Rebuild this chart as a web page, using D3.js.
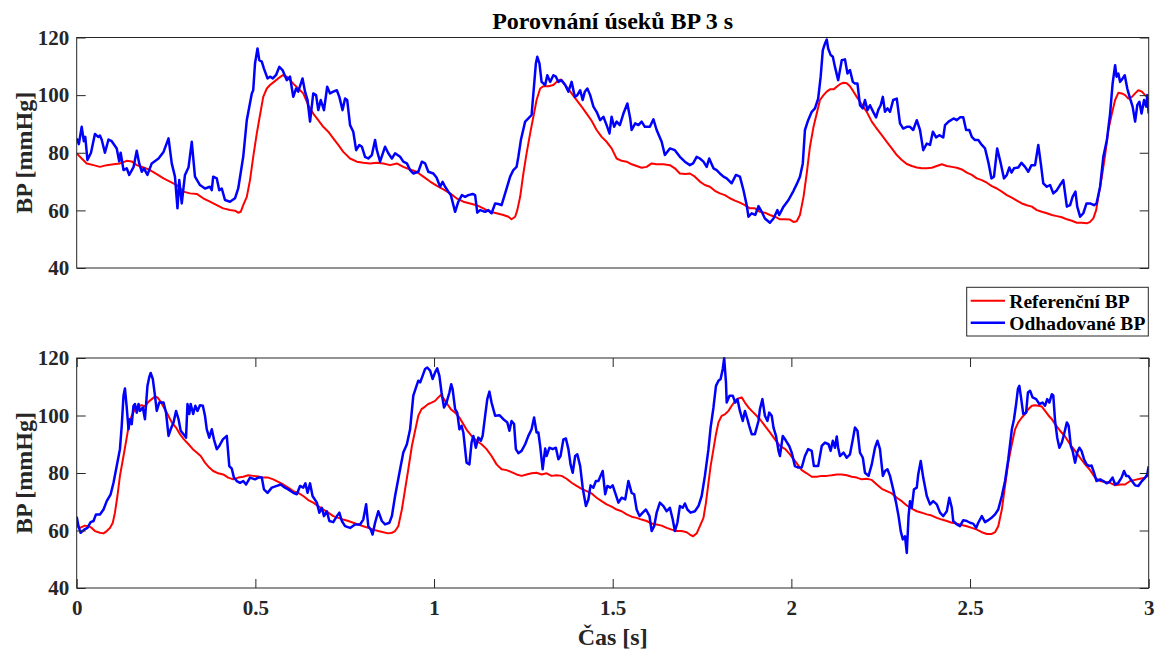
<!DOCTYPE html>
<html><head><meta charset="utf-8">
<script src="https://cdn.jsdelivr.net/npm/d3@7"></script>
<style>
body{margin:0;background:#fff}
text{font-family:"Liberation Serif","Times New Roman",serif;font-weight:bold;fill:#262626}
</style>
</head><body>
<svg id="c" width="1164" height="650"></svg>
<script>
// ---------------- DATA ----------------
const titleText = "Porovnání úseků BP 3 s";
const yLabelText = "BP [mmHg]";
const xLabelText = "Čas [s]";
const legendLabels = ["Referenční BP", "Odhadované BP"];
const yTicks = [40, 60, 80, 100, 120];
const xTicks = [0, 0.5, 1, 1.5, 2, 2.5, 3];
const xTickLabels = ["0", "0.5", "1", "1.5", "2", "2.5", "3"];

// top panel, reference BP [time s, mmHg]
const topRef = [[0,79.8],[0.014,78],[0.028,76.3],[0.047,75.7],[0.065,75.1],[0.084,75.7],[0.103,76],[0.121,76.3],[0.14,77.2],[0.154,77],[0.168,75.7],[0.187,74.9],[0.205,74],[0.224,72.6],[0.243,71.1],[0.261,70],[0.28,68.8],[0.299,66.5],[0.317,65.9],[0.336,65.7],[0.354,64.2],[0.373,63],[0.392,61.8],[0.41,60.7],[0.429,60.1],[0.443,59.9],[0.452,59.2],[0.459,59.5],[0.466,61.8],[0.476,64.7],[0.485,70.5],[0.494,78.6],[0.504,86.7],[0.513,93.1],[0.522,99.4],[0.532,102.3],[0.541,103.5],[0.552,104.6],[0.564,105.8],[0.576,106.9],[0.588,106.4],[0.597,105.2],[0.606,104],[0.62,102.3],[0.634,100.6],[0.648,96.5],[0.662,93.6],[0.676,91.3],[0.69,89],[0.704,87.3],[0.718,85],[0.732,82.7],[0.746,80.3],[0.765,78],[0.784,76.9],[0.802,76.5],[0.821,76.3],[0.84,76.5],[0.858,76.3],[0.877,75.7],[0.896,76.3],[0.914,75.1],[0.933,74.2],[0.951,73.4],[0.97,71.7],[0.989,70],[1.007,68.6],[1.026,67.3],[1.045,65.9],[1.063,64.2],[1.082,63],[1.101,62.4],[1.119,61.8],[1.138,60.7],[1.157,59.5],[1.175,59],[1.194,58.4],[1.208,57.8],[1.217,56.9],[1.227,57.8],[1.233,60.1],[1.241,64.7],[1.25,72.8],[1.259,79.8],[1.269,86.7],[1.278,92.5],[1.287,98.3],[1.297,102.3],[1.306,103.1],[1.32,103.1],[1.334,103.5],[1.343,104.6],[1.353,105.4],[1.362,104.3],[1.371,102.9],[1.385,100.6],[1.399,98.3],[1.413,96],[1.427,93.6],[1.441,91.1],[1.455,87.9],[1.469,85.5],[1.483,83.8],[1.497,81.5],[1.511,78],[1.525,77.2],[1.539,76.9],[1.553,76],[1.567,75.4],[1.581,74.8],[1.595,75.1],[1.609,76.3],[1.623,76],[1.642,76],[1.66,75.7],[1.674,74.6],[1.688,72.8],[1.703,72.6],[1.716,72.8],[1.73,71.7],[1.744,70],[1.758,68.8],[1.772,68.2],[1.786,66.8],[1.8,65.9],[1.814,65.3],[1.828,64.2],[1.842,63.4],[1.856,62.7],[1.87,61.8],[1.884,60.7],[1.898,60.7],[1.912,59.5],[1.926,59.2],[1.94,58.4],[1.954,57.8],[1.968,56.9],[1.982,56.9],[1.996,56.8],[2.006,56],[2.015,56.2],[2.024,58.4],[2.034,64.7],[2.043,72.8],[2.052,82.1],[2.062,89],[2.071,93.6],[2.08,98.3],[2.09,100],[2.099,101.2],[2.108,102],[2.118,102],[2.127,102.9],[2.136,103.8],[2.146,104.3],[2.155,104.1],[2.164,103.1],[2.174,101.2],[2.183,99.4],[2.192,97.7],[2.201,96],[2.211,94.2],[2.225,90.8],[2.239,88.4],[2.253,86.1],[2.267,83.8],[2.281,81.5],[2.295,79.2],[2.309,77.5],[2.323,76.1],[2.337,75.4],[2.351,74.9],[2.365,74.6],[2.379,74.6],[2.393,74.8],[2.407,75.4],[2.421,76],[2.435,75.4],[2.449,75.1],[2.463,74.8],[2.477,74.2],[2.491,73.1],[2.505,72.3],[2.519,71.1],[2.533,70.5],[2.547,69.6],[2.561,68.4],[2.575,67.6],[2.589,66.5],[2.603,65.3],[2.617,64.4],[2.631,63.4],[2.645,62.4],[2.659,61.8],[2.673,61.3],[2.687,60.1],[2.701,59.5],[2.715,59],[2.729,58.4],[2.743,58],[2.757,57.6],[2.771,56.9],[2.785,56.4],[2.799,55.7],[2.813,55.7],[2.827,55.5],[2.836,56],[2.845,57.2],[2.853,60.1],[2.859,64.7],[2.869,71.7],[2.878,79.2],[2.887,87.9],[2.897,93.6],[2.906,98.3],[2.915,100.8],[2.925,100.6],[2.934,100],[2.943,98.8],[2.953,99.4],[2.962,100.6],[2.971,101.7],[2.981,101.2],[2.99,100],[3,98.8]];

// top panel, estimated BP
const topEst = [[0,85],[0.006,83],[0.014,89],[0.02,84],[0.024,85.5],[0.03,77.5],[0.04,80],[0.051,86.5],[0.06,85.5],[0.065,86],[0.07,84.5],[0.079,80],[0.089,84.6],[0.098,84],[0.112,81.5],[0.119,77],[0.123,80],[0.131,74],[0.14,74.6],[0.147,72.3],[0.159,75],[0.168,80.7],[0.175,76.3],[0.182,73.4],[0.188,74.6],[0.198,72.3],[0.21,76.3],[0.229,78],[0.243,80.3],[0.257,85],[0.266,76.3],[0.275,71.7],[0.282,60.7],[0.287,70.5],[0.294,62.4],[0.303,72.3],[0.313,75],[0.322,83.8],[0.331,71.7],[0.345,68.8],[0.359,67.6],[0.373,68.2],[0.378,67],[0.382,71.7],[0.392,71.1],[0.399,67],[0.406,67.6],[0.415,63.6],[0.429,63],[0.443,64.2],[0.452,67.6],[0.466,78.6],[0.476,91.3],[0.49,100.6],[0.494,101.7],[0.499,111],[0.506,116.2],[0.511,112.1],[0.518,111.6],[0.524,109.2],[0.534,105.8],[0.541,106.4],[0.549,105.8],[0.558,107],[0.567,109.8],[0.576,108.7],[0.588,105.2],[0.597,106.4],[0.606,99.4],[0.614,102.3],[0.62,101.2],[0.632,105.8],[0.639,101.2],[0.646,98.3],[0.653,90.8],[0.662,100.6],[0.67,100],[0.676,94.8],[0.683,98.3],[0.692,94.8],[0.701,102.9],[0.709,100.6],[0.718,101.2],[0.728,101.7],[0.735,99.4],[0.744,94.8],[0.751,98.8],[0.757,98.3],[0.765,89.6],[0.774,87.3],[0.782,80.9],[0.791,82.7],[0.798,82.1],[0.807,78.6],[0.816,78],[0.826,79.2],[0.835,84.4],[0.84,80.9],[0.849,76.9],[0.863,82.1],[0.872,79.8],[0.882,78],[0.891,79.8],[0.905,78.6],[0.914,76.9],[0.924,76.3],[0.933,74],[0.942,72.8],[0.956,73.4],[0.966,76.9],[0.975,76.3],[0.984,73.4],[0.998,72.8],[1.007,71.4],[1.017,68.2],[1.024,69.9],[1.031,68.2],[1.04,66.5],[1.047,65.3],[1.059,59.5],[1.068,63],[1.078,65.3],[1.087,64.7],[1.096,65.3],[1.108,65.7],[1.115,65.3],[1.121,59.2],[1.129,60.1],[1.143,59.5],[1.152,60.1],[1.161,59],[1.171,62.4],[1.18,62.2],[1.189,61.8],[1.199,65.9],[1.213,71.7],[1.222,74],[1.231,75.1],[1.236,78.6],[1.243,84.4],[1.255,90.8],[1.264,91.9],[1.273,93.1],[1.28,103.5],[1.285,111],[1.289,113.3],[1.295,111],[1.301,104.6],[1.311,103.5],[1.317,106.9],[1.325,104.6],[1.334,106.9],[1.341,106.4],[1.348,104.6],[1.357,105.2],[1.367,103.5],[1.376,101.2],[1.385,104.6],[1.394,99.4],[1.401,100],[1.409,101.7],[1.416,98.3],[1.422,101.2],[1.429,102.3],[1.437,100],[1.446,96],[1.455,94.2],[1.465,91.3],[1.474,92.5],[1.483,89.6],[1.491,86.7],[1.497,92.5],[1.504,89],[1.511,90.8],[1.52,89.6],[1.53,93.6],[1.541,97.1],[1.549,91.9],[1.553,87.9],[1.563,90.2],[1.572,89.6],[1.581,90.8],[1.59,89],[1.604,89],[1.614,91.6],[1.623,87.9],[1.637,83.8],[1.646,79.2],[1.66,81.5],[1.674,80.9],[1.688,78.6],[1.702,76.9],[1.716,75.7],[1.725,76.3],[1.735,78.6],[1.744,78],[1.754,76.9],[1.763,75.1],[1.77,78],[1.782,74.6],[1.791,74],[1.8,72.8],[1.81,71.7],[1.819,71.1],[1.833,69.4],[1.845,72.3],[1.856,71.7],[1.866,67],[1.875,61.8],[1.88,57.8],[1.889,59],[1.899,58.4],[1.908,61.5],[1.917,59.5],[1.926,57.2],[1.94,55.7],[1.95,57.2],[1.961,60.1],[1.966,58.4],[1.978,61.3],[1.992,63.6],[2.006,66.8],[2.015,69.1],[2.024,71.7],[2.032,76.3],[2.038,87.9],[2.047,91.3],[2.057,94.2],[2.066,95.4],[2.075,98.8],[2.082,106.4],[2.088,115.6],[2.094,117.9],[2.099,119.3],[2.103,116.2],[2.11,113.9],[2.116,113.3],[2.122,109.8],[2.131,105.2],[2.141,112.1],[2.15,112.4],[2.157,107.5],[2.164,108.7],[2.172,104.6],[2.178,104],[2.185,104],[2.192,96.5],[2.2,95.4],[2.206,98.3],[2.213,94.8],[2.22,96.5],[2.229,94.2],[2.237,92.3],[2.243,94.8],[2.25,96.5],[2.256,99.4],[2.262,94.2],[2.269,95.4],[2.276,94.2],[2.285,98.3],[2.295,98.8],[2.304,90.2],[2.313,88.4],[2.323,89],[2.332,89],[2.341,87.9],[2.351,91.3],[2.36,87.9],[2.369,80.9],[2.379,83.2],[2.388,82.7],[2.396,87.3],[2.405,85.3],[2.414,86.1],[2.425,85.3],[2.43,89.6],[2.44,90.8],[2.454,91.9],[2.463,91.3],[2.472,92.3],[2.481,92.3],[2.489,87.9],[2.498,87.9],[2.505,85.5],[2.514,84.4],[2.523,84.4],[2.533,82.7],[2.542,81.5],[2.552,76.3],[2.56,71.1],[2.567,71.7],[2.576,81.5],[2.586,76.3],[2.595,71.1],[2.603,72.3],[2.61,74.9],[2.616,73.1],[2.623,74.6],[2.635,74.9],[2.644,76.5],[2.654,75.1],[2.663,73.4],[2.672,75.7],[2.682,75.7],[2.691,82.7],[2.698,76.3],[2.705,69.4],[2.715,68.2],[2.724,68.8],[2.733,65.9],[2.743,67],[2.752,68.8],[2.761,70.5],[2.771,61.3],[2.78,61.8],[2.787,64.7],[2.795,66.5],[2.8,61.3],[2.808,57.8],[2.817,59],[2.826,62.4],[2.836,62.4],[2.847,61.8],[2.854,62.4],[2.864,68.2],[2.873,78.6],[2.883,84.4],[2.892,93.6],[2.899,104],[2.906,110.4],[2.91,106.4],[2.915,107.5],[2.92,104.6],[2.927,105.8],[2.933,106.9],[2.94,102.3],[2.948,98.8],[2.955,96],[2.962,90.8],[2.968,96.5],[2.974,97.7],[2.98,93.6],[2.987,98.3],[2.993,96],[2.996,100],[3,93.6]];

// bottom panel, reference BP
const botRef = [[0,61.5],[0.009,60.9],[0.023,61.7],[0.033,61.5],[0.042,60.9],[0.051,59.8],[0.065,59.2],[0.075,59],[0.084,59.8],[0.093,60.9],[0.101,62.7],[0.107,66.2],[0.114,72],[0.121,79],[0.131,85.9],[0.14,92.3],[0.147,97.6],[0.154,99.9],[0.163,102.2],[0.173,103.4],[0.182,103.6],[0.191,103.1],[0.201,104.8],[0.21,105.7],[0.219,106.6],[0.226,106.3],[0.235,104.8],[0.244,102.8],[0.254,100.5],[0.266,97.6],[0.278,95.8],[0.289,93.5],[0.3,91.7],[0.313,90],[0.325,88.3],[0.336,87.1],[0.347,85.9],[0.359,83.6],[0.371,81.9],[0.382,80.7],[0.396,79.9],[0.41,79.5],[0.424,78.4],[0.438,77.8],[0.452,78.4],[0.466,78.7],[0.48,79.2],[0.494,79],[0.508,78.8],[0.522,78.4],[0.536,78.4],[0.55,77.8],[0.564,76.9],[0.578,76],[0.592,74.9],[0.606,73.7],[0.62,73.1],[0.634,72],[0.648,70.6],[0.662,69.7],[0.676,68.5],[0.69,67.3],[0.704,66.2],[0.718,65],[0.732,64.4],[0.746,63.8],[0.76,63.3],[0.774,62.7],[0.788,62.1],[0.802,61.5],[0.816,60.9],[0.83,60.3],[0.844,59.8],[0.858,59.4],[0.872,59],[0.882,59.2],[0.891,59.8],[0.9,61.5],[0.91,67.3],[0.919,74.3],[0.928,81.3],[0.938,89.4],[0.947,94.7],[0.956,99.9],[0.965,102.2],[0.975,103.1],[0.984,104],[0.993,104.5],[1.003,105.1],[1.012,106.3],[1.019,107.1],[1.028,105.7],[1.037,104],[1.047,102.2],[1.059,101],[1.071,99.3],[1.082,97],[1.093,94.7],[1.105,92.9],[1.119,91.2],[1.133,90],[1.147,88.3],[1.161,85.9],[1.175,83],[1.189,81.3],[1.203,81],[1.217,80.3],[1.231,79.5],[1.245,79],[1.259,79.5],[1.273,79.9],[1.287,80.1],[1.301,79.5],[1.315,79.9],[1.329,79],[1.343,79.2],[1.357,79],[1.371,78],[1.385,76.6],[1.399,75.5],[1.413,74.5],[1.427,73.7],[1.441,72.9],[1.455,71.4],[1.469,70.2],[1.483,69.1],[1.497,68.3],[1.511,67.3],[1.525,66.7],[1.539,65.6],[1.553,64.8],[1.567,64.4],[1.581,63.8],[1.595,63.3],[1.609,62.4],[1.623,62.1],[1.637,61.7],[1.651,60.9],[1.665,60.3],[1.679,59.8],[1.693,59.8],[1.707,59.4],[1.716,58.6],[1.725,58],[1.735,59],[1.744,61.5],[1.754,64.4],[1.761,69.7],[1.768,76.6],[1.774,82.4],[1.782,88.3],[1.789,93.5],[1.796,97.6],[1.805,99.9],[1.815,100.5],[1.824,101.6],[1.833,103.4],[1.843,105.1],[1.852,105.9],[1.861,106.3],[1.87,104.5],[1.88,102.8],[1.889,101.6],[1.898,100.5],[1.912,98.7],[1.926,96.4],[1.94,94.1],[1.954,91.7],[1.968,89.4],[1.983,88.3],[1.996,86.5],[2.01,84.2],[2.029,81],[2.043,79.9],[2.057,78.7],[2.071,78.7],[2.085,79],[2.099,79],[2.113,79.2],[2.127,79.5],[2.141,79.5],[2.155,79.2],[2.169,78.7],[2.183,78.4],[2.197,77.8],[2.211,78],[2.225,77.6],[2.239,76],[2.253,74.5],[2.267,73.7],[2.281,72.9],[2.295,71.4],[2.309,70.2],[2.323,68.7],[2.337,67.6],[2.351,66.7],[2.365,66.2],[2.379,65.6],[2.393,65.2],[2.407,64.4],[2.421,63.8],[2.435,63.3],[2.449,62.7],[2.463,62.4],[2.477,61.9],[2.491,61.5],[2.505,60.9],[2.519,60.3],[2.533,59.4],[2.547,58.8],[2.561,58.8],[2.57,59.4],[2.579,61.5],[2.589,67.3],[2.598,75.5],[2.607,83.6],[2.617,90],[2.626,95.2],[2.635,97.6],[2.645,99.3],[2.654,100.5],[2.663,102.2],[2.673,103.4],[2.682,103.6],[2.691,103.4],[2.701,103.1],[2.71,101.6],[2.719,100.1],[2.729,98.7],[2.738,97],[2.752,94.7],[2.766,92.7],[2.78,90],[2.794,87.7],[2.808,85.3],[2.822,83],[2.836,81],[2.85,78.4],[2.864,77.2],[2.878,76.9],[2.892,76.6],[2.906,75.7],[2.92,76],[2.934,76],[2.948,77.2],[2.962,77.6],[2.976,78],[2.99,78.4],[3,79.2]];

// bottom panel, estimated BP
const botEst = [[0,64.8],[0.005,61.5],[0.011,59.2],[0.021,60.3],[0.03,60.9],[0.039,62.9],[0.047,63.3],[0.054,65.6],[0.065,65.6],[0.075,67.3],[0.084,70.2],[0.095,72.6],[0.103,76.6],[0.112,82.4],[0.121,88.3],[0.126,96.4],[0.131,106.9],[0.135,109.4],[0.14,102.8],[0.145,95.2],[0.149,98.7],[0.154,97],[0.159,103.4],[0.163,104],[0.168,101],[0.173,104],[0.177,101.6],[0.185,102.8],[0.191,98.7],[0.198,110.3],[0.203,113.3],[0.207,114.8],[0.213,112.7],[0.219,106.9],[0.224,101.6],[0.231,104.5],[0.243,104.5],[0.25,101],[0.257,92.9],[0.263,95.2],[0.271,97.6],[0.278,101.6],[0.285,98.7],[0.291,94.7],[0.299,93.5],[0.306,92.3],[0.31,104],[0.315,100.5],[0.319,104],[0.326,100.5],[0.332,103.4],[0.338,101.6],[0.345,103.6],[0.353,103.4],[0.359,99.9],[0.364,95.2],[0.371,92.3],[0.378,95.2],[0.384,91.7],[0.392,88.3],[0.399,89.4],[0.409,91.7],[0.42,92.9],[0.427,82.4],[0.434,81.5],[0.44,78.4],[0.448,77.2],[0.457,76.6],[0.466,77.2],[0.474,76],[0.485,78.4],[0.499,77.8],[0.508,78.4],[0.518,78.4],[0.524,74.3],[0.534,73.1],[0.546,74.9],[0.56,75.5],[0.571,76],[0.583,74.9],[0.592,74.3],[0.606,73.1],[0.616,72.6],[0.625,75.5],[0.634,74.9],[0.64,76.4],[0.646,73.1],[0.653,76.4],[0.66,72],[0.672,69.7],[0.679,66.2],[0.686,67.9],[0.692,65],[0.7,66.7],[0.707,63.3],[0.718,62.9],[0.728,65],[0.735,66.2],[0.742,63.3],[0.751,61.5],[0.765,60.9],[0.779,62.1],[0.793,62.1],[0.802,63.8],[0.81,69.1],[0.816,61.5],[0.823,60.3],[0.828,58.6],[0.835,62.7],[0.844,66.7],[0.854,63.3],[0.863,62.1],[0.875,62.7],[0.882,65],[0.891,72],[0.905,81.3],[0.914,87.1],[0.924,90],[0.933,95.2],[0.942,106.9],[0.951,110.3],[0.956,112.1],[0.961,111.5],[0.968,113.8],[0.975,116.2],[0.981,116.7],[0.989,115.6],[0.996,112.7],[1.003,115],[1.009,116.4],[1.015,113.8],[1.021,108],[1.028,102.8],[1.035,104.5],[1.043,108],[1.048,110.9],[1.052,109.2],[1.059,102.2],[1.065,101],[1.071,95.2],[1.077,96.4],[1.082,94.1],[1.087,88.3],[1.091,83.6],[1.099,83],[1.105,90.6],[1.11,92.9],[1.117,88.8],[1.124,92.3],[1.131,91.2],[1.136,92.9],[1.143,99.9],[1.149,105.7],[1.155,108.3],[1.161,104.5],[1.171,99.9],[1.183,100.1],[1.194,98.7],[1.205,97.6],[1.211,94.7],[1.217,98.1],[1.224,97],[1.229,88.3],[1.236,86.9],[1.245,87.7],[1.255,90],[1.264,92.9],[1.273,95.2],[1.28,99.3],[1.287,94.1],[1.292,94.1],[1.297,89.4],[1.304,81.3],[1.311,88.5],[1.315,85.9],[1.323,88.8],[1.332,88.3],[1.341,88.8],[1.348,84.8],[1.354,85.9],[1.362,91.7],[1.369,92],[1.376,88.3],[1.382,83],[1.388,80.1],[1.395,85.9],[1.401,86.5],[1.409,82.4],[1.416,74.9],[1.425,68.5],[1.432,70.8],[1.438,75.7],[1.446,74.9],[1.453,77.2],[1.46,77.2],[1.466,79],[1.472,80.7],[1.479,72.6],[1.485,75.5],[1.493,74.9],[1.5,75.7],[1.507,73.1],[1.516,69.7],[1.525,71.4],[1.535,70.8],[1.544,77.2],[1.553,73.1],[1.56,72.6],[1.567,67.3],[1.575,65],[1.584,66.2],[1.593,67.3],[1.603,65],[1.609,59.8],[1.616,61.5],[1.623,66.2],[1.632,69.7],[1.642,68.5],[1.651,66.7],[1.66,67.9],[1.668,63.8],[1.674,59.8],[1.681,62.7],[1.688,68.5],[1.696,67.9],[1.702,69.4],[1.709,67.3],[1.718,66.2],[1.73,66.7],[1.74,68.5],[1.749,72],[1.758,79],[1.768,88.3],[1.774,95.8],[1.782,102.8],[1.789,110.3],[1.796,112.1],[1.802,112.7],[1.808,116.2],[1.812,119.9],[1.817,111.5],[1.819,104.5],[1.827,106.9],[1.836,106.9],[1.843,104.5],[1.849,105.7],[1.856,101.6],[1.864,98.1],[1.87,101.6],[1.877,98.7],[1.882,96.4],[1.889,93.5],[1.898,93.5],[1.908,98.1],[1.912,102.2],[1.919,105.7],[1.926,99.9],[1.933,98.1],[1.938,101],[1.945,99.9],[1.95,95.8],[1.957,92.9],[1.964,87.7],[1.968,85.9],[1.976,92.9],[1.985,91.2],[1.994,89.4],[2.001,87.1],[2.01,82.4],[2.019,81.9],[2.029,81.9],[2.038,85.9],[2.047,88.3],[2.057,87.7],[2.063,82.4],[2.075,82.4],[2.085,89.4],[2.094,90.6],[2.104,90],[2.11,87.7],[2.116,91.2],[2.122,88.8],[2.127,92.7],[2.131,88.8],[2.136,85.9],[2.146,87.1],[2.155,85.3],[2.164,86.5],[2.172,91.7],[2.178,95.8],[2.185,94.7],[2.192,87.1],[2.2,85.3],[2.206,80.1],[2.216,79],[2.225,83],[2.234,88.8],[2.241,91.2],[2.248,88.3],[2.256,79],[2.262,80.7],[2.269,81.3],[2.276,79],[2.285,74.3],[2.293,69.7],[2.3,65],[2.306,59.8],[2.312,56.9],[2.318,58],[2.323,52.2],[2.328,65],[2.332,70.2],[2.337,67.9],[2.343,74.3],[2.351,74.9],[2.355,79.5],[2.362,84.2],[2.369,78.4],[2.379,72],[2.388,69.1],[2.397,70.2],[2.407,69.1],[2.416,66.2],[2.425,65],[2.435,66.7],[2.442,71.4],[2.449,67.9],[2.453,63.3],[2.463,62.1],[2.472,61.5],[2.481,63.6],[2.491,63.3],[2.5,62.7],[2.509,62.4],[2.517,60.9],[2.523,62.7],[2.533,65],[2.542,62.9],[2.551,63.6],[2.56,64.4],[2.57,65.6],[2.579,67.3],[2.589,72],[2.598,77.2],[2.607,84.8],[2.617,95.2],[2.623,98.7],[2.629,104],[2.634,109.2],[2.638,110.3],[2.642,106.9],[2.649,100.5],[2.657,101],[2.662,108],[2.668,108.6],[2.675,106.3],[2.685,105.7],[2.694,104],[2.703,104.5],[2.71,103.4],[2.716,105.7],[2.722,104.5],[2.729,107.4],[2.733,107],[2.738,98.1],[2.744,92.3],[2.75,88.8],[2.757,90.6],[2.763,93.5],[2.771,97.6],[2.776,96.4],[2.782,89.4],[2.787,87.7],[2.794,83.6],[2.8,87.1],[2.806,88.8],[2.812,87.7],[2.819,84.8],[2.826,83],[2.834,82.4],[2.84,82.6],[2.847,80.1],[2.854,77.2],[2.864,77.8],[2.873,77.2],[2.882,76.4],[2.89,76.9],[2.899,78.4],[2.906,76],[2.915,76.6],[2.924,78.4],[2.931,80.7],[2.937,79],[2.943,79],[2.953,77.2],[2.962,75.7],[2.971,75.5],[2.981,77.2],[2.99,78.4],[2.996,79.5],[3,82.4]];

// ---------------- DRAWING ----------------
const svg = d3.select("#c");
const AXL = 76.7, AXR = 1148.7;
const axisColor = "#262626";
const x = d3.scaleLinear().domain([0, 3]).range([AXL, AXR]);

const panels = [
  {top: 37.5, bottom: 268, ref: topRef, est: topEst, xt: false},
  {top: 358, bottom: 588, ref: botRef, est: botEst, xt: true}
];

const defs = svg.append("defs");

panels.forEach((p, i) => {
  const y = d3.scaleLinear().domain([40, 120]).range([p.bottom, p.top]);
  const g = svg.append("g");
  defs.append("clipPath").attr("id", "clip" + i)
    .append("rect").attr("x", AXL).attr("y", p.top - 1.5)
    .attr("width", AXR - AXL).attr("height", p.bottom - p.top + 3);

  const line = d3.line().x(d => x(d[0])).y(d => y(d[1]));
  const lg = g.append("g").attr("clip-path", `url(#clip${i})`);
  lg.append("path").datum(p.ref).attr("d", line)
    .attr("fill", "none").attr("stroke", "#ff0000").attr("stroke-width", 2).attr("stroke-linejoin", "round");
  lg.append("path").datum(p.est).attr("d", line)
    .attr("fill", "none").attr("stroke", "#0000ff").attr("stroke-width", 2.5).attr("stroke-linejoin", "round");

  // box
  g.append("rect").attr("x", AXL).attr("y", p.top)
    .attr("width", AXR - AXL).attr("height", p.bottom - p.top)
    .attr("fill", "none").attr("stroke", axisColor).attr("stroke-width", 1);

  // left axis with labels
  const la = g.append("g").attr("transform", `translate(${AXL},0)`)
    .call(d3.axisLeft(y).tickValues(yTicks).tickSize(-9).tickSizeOuter(0).tickPadding(7.5).tickFormat(d3.format("d")));
  // right axis ticks
  const ra = g.append("g").attr("transform", `translate(${AXR},0)`)
    .call(d3.axisRight(y).tickValues(yTicks).tickSize(-9).tickSizeOuter(0).tickFormat(""));
  const axes = [la, ra];

  if (p.xt) {
    const ba = g.append("g").attr("transform", `translate(0,${p.bottom})`)
      .call(d3.axisBottom(x).tickValues(xTicks).tickSize(-9).tickSizeOuter(0).tickPadding(12.5)
        .tickFormat((d, k) => xTickLabels[k]));
    const ta = g.append("g").attr("transform", `translate(0,${p.top})`)
      .call(d3.axisTop(x).tickValues(xTicks).tickSize(-9).tickSizeOuter(0).tickFormat(""));
    axes.push(ba, ta);
  }
  axes.forEach(a => {
    a.select(".domain").remove();
    a.selectAll("line").attr("stroke", axisColor);
    a.selectAll("text").attr("font-family", null).attr("font-size", null)
      .style("font-size", "21px").attr("fill", axisColor);
  });

  // y label
  g.append("text")
    .attr("transform", `translate(32,${(p.top + p.bottom) / 2}) rotate(-90)`)
    .attr("text-anchor", "middle").style("font-size", "24px").text(yLabelText);
});

// title
svg.append("text").attr("x", (AXL + AXR) / 2).attr("y", 28.5)
  .attr("text-anchor", "middle").style("font-size", "24px").style("fill", "#000").text(titleText);

// x label
svg.append("text").attr("x", (AXL + AXR) / 2).attr("y", 645)
  .attr("text-anchor", "middle").style("font-size", "24px").text(xLabelText);

// legend
const leg = svg.append("g");
leg.append("rect").attr("x", 966.7).attr("y", 287.3).attr("width", 181.6).attr("height", 48.7)
  .attr("fill", "#fff").attr("stroke", axisColor).attr("stroke-width", 1);
const legColors = ["#ff0000", "#0000ff"];
const legWidths = [2, 2.5];
legendLabels.forEach((lab, k) => {
  const ly = k === 0 ? 300.7 : 322.7;
  leg.append("line").attr("x1", 970.7).attr("x2", 1005).attr("y1", ly).attr("y2", ly)
    .attr("stroke", legColors[k]).attr("stroke-width", legWidths[k]);
  leg.append("text").attr("x", 1009.3).attr("y", ly + 6.8)
    .style("font-size", "19.5px").style("fill", "#000").text(lab);
});
</script>
</body></html>
